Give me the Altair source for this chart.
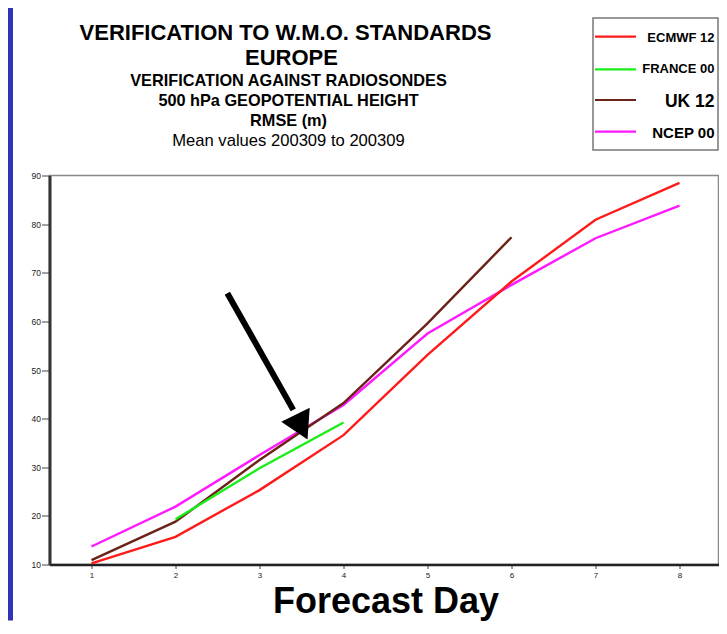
import altair as alt
import pandas as pd

FONT = "Liberation Sans"

DAYS = [1, 2, 3, 4, 5, 6, 7, 8]
Y_TICKS = [10, 20, 30, 40, 50, 60, 70, 80, 90]
SERIES = ["ECMWF 12", "FRANCE 00", "UK 12", "NCEP 00"]
COLORS = ["#ff1a1a", "#19ee19", "#6b2217", "#ff19ff"]

ECMWF_DAYS = [1, 2, 3, 4, 5, 6, 7, 8]
ECMWF = [10.25, 15.7, 25.3, 36.6, 53.1, 68.2, 80.9, 88.5]
FRANCE_DAYS = [2, 3, 4]
FRANCE = [19.3, 29.8, 39.2]
UK_DAYS = [1, 2, 3, 4, 5, 6]
UK = [10.9, 18.8, 31.5, 43.2, 59.6, 77.3]
NCEP_DAYS = [1, 2, 3, 4, 5, 6, 7, 8]
NCEP = [13.7, 21.9, 32.5, 42.8, 57.5, 67.5, 77.1, 83.8]

TITLE_LINES = [
    "VERIFICATION TO W.M.O. STANDARDS",
    "EUROPE",
    "VERIFICATION AGAINST RADIOSONDES",
    "500 hPa GEOPOTENTIAL HEIGHT",
    "RMSE (m)",
    "Mean values 200309 to 200309",
]
X_TITLE = "Forecast Day"

# annotation arrow (in data units: forecast day, metres)
ARROW_DAY = [2.617, 3.402]
ARROW_VAL = [65.8, 41.8]
ARROW_HEAD_DAY = [3.476]
ARROW_HEAD_VAL = [39.1]

rows = []
for name, ds, vs in [
    ("NCEP 00", NCEP_DAYS, NCEP),
    ("UK 12", UK_DAYS, UK),
    ("FRANCE 00", FRANCE_DAYS, FRANCE),
    ("ECMWF 12", ECMWF_DAYS, ECMWF),
]:
    for d, v in zip(ds, vs):
        rows.append({"series": name, "day": d, "value": v})
df = pd.DataFrame(rows)
one = pd.DataFrame({"_": [0]})

W, H = 669, 389

xscale = alt.Scale(domain=[0.5, 8.464], nice=False, zero=False)
yscale = alt.Scale(domain=[10, 90], nice=False, zero=False)

X_AXIS = alt.Axis(values=DAYS, format="d", title=X_TITLE,
                  titleFontSize=36, titleFontWeight="bold", titleFont=FONT,
                  titleColor="black", titleX=336, titleY=48,
                  titleBaseline="alphabetic", titleAlign="center",
                  domainColor="#222", domainWidth=2.5,
                  tickColor="#444", tickSize=4, labelPadding=3,
                  labelFontSize=8, labelFont=FONT, labelColor="#222",
                  grid=False)
Y_AXIS = alt.Axis(values=Y_TICKS, format="d", title=None,
                  domainColor="#333", domainWidth=3,
                  tickColor="#444", tickSize=8, labelPadding=1,
                  labelFontSize=8.5, labelFont=FONT, labelColor="#222",
                  grid=False)

lines = alt.Chart(df).mark_line(strokeWidth=2.4).encode(
    x=alt.X("day:Q", scale=xscale, axis=X_AXIS),
    y=alt.Y("value:Q", scale=yscale, axis=Y_AXIS),
    color=alt.Color("series:N", scale=alt.Scale(domain=SERIES, range=COLORS), legend=None),
    order="day:Q",
)

arrow_df = pd.DataFrame({"day": [ARROW_DAY[0]], "value": [ARROW_VAL[0]],
                         "day2": [ARROW_DAY[1]], "value2": [ARROW_VAL[1]]})
shaft = alt.Chart(arrow_df).mark_rule(strokeWidth=6, color="black", strokeCap="butt").encode(
    x=alt.X("day:Q", scale=xscale, axis=X_AXIS),
    y=alt.Y("value:Q", scale=yscale, axis=Y_AXIS),
    x2="day2:Q", y2="value2:Q",
)
head_df = pd.DataFrame({"day": ARROW_HEAD_DAY, "value": ARROW_HEAD_VAL})
head = alt.Chart(head_df).mark_point(shape="triangle", size=1000, filled=True,
                                     color="black", opacity=1, angle=154, strokeWidth=0).encode(
    x=alt.X("day:Q", scale=xscale, axis=X_AXIS),
    y=alt.Y("value:Q", scale=yscale, axis=Y_AXIS),
)


def txt(s, x, y, size, weight="bold", align="center"):
    return alt.Chart(one).mark_text(
        text=s, fontSize=size, fontWeight=weight, align=align,
        baseline="alphabetic", font=FONT, color="black",
    ).encode(x=alt.value(x), y=alt.value(y))


titles = [
    txt(TITLE_LINES[0], 236, -136, 22),
    txt(TITLE_LINES[1], 242, -111, 22),
    txt(TITLE_LINES[2], 239, -90, 16.3),
    txt(TITLE_LINES[3], 239, -70, 16.3),
    txt(TITLE_LINES[4], 239, -49.5, 16.3),
    txt(TITLE_LINES[5], 239, -29.5, 16.6, weight="normal"),
]

strip = alt.Chart(one).mark_rect(color="#3232b4").encode(
    x=alt.value(-41.5), x2=alt.value(-36.5), y=alt.value(-167.5), y2=alt.value(H + 56)
)

legend_box = alt.Chart(one).mark_rect(fill="white", stroke="#777", strokeWidth=1.5).encode(
    x=alt.value(543.5), x2=alt.value(668.5), y=alt.value(-157.5), y2=alt.value(-25.5)
)
LEG_LINE_Y = [-138.8, -106.2, -75.5, -43.8]
LEG_TEXT_Y = [-133.8, -102.2, -68.2, -37.2]
LEG_SIZE = [13, 13, 17.5, 15]
legend_layers = [legend_box]
for i, name in enumerate(SERIES):
    legend_layers.append(
        alt.Chart(one).mark_rule(color=COLORS[i], strokeWidth=2.2).encode(
            x=alt.value(545.5), x2=alt.value(586.5), y=alt.value(LEG_LINE_Y[i])
        )
    )
    legend_layers.append(txt(name, 665, LEG_TEXT_Y[i], LEG_SIZE[i], align="right"))

chart = alt.layer(strip, lines, shaft, head, *titles, *legend_layers).properties(
    width=W, height=H,
    padding={"left": 41.5, "top": 167.5, "right": 0.5, "bottom": 56},
    autosize=alt.AutoSizeParams(type="none"),
).configure(background="white").configure_view(stroke="#888", strokeWidth=1.5)

chart.save("out.html", embed_options={"renderer": "svg", "actions": False})
